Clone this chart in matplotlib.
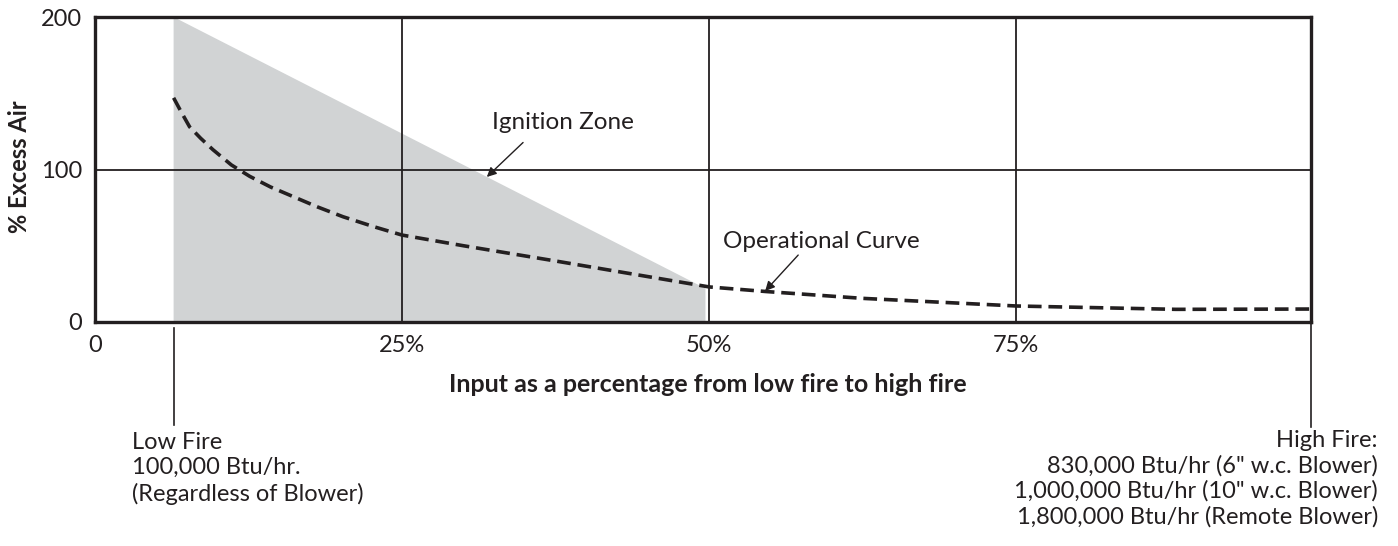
import matplotlib
matplotlib.use('Agg')
import matplotlib.pyplot as plt
import matplotlib.transforms as mtransforms

plt.rcParams['font.family'] = ['Lato', 'DejaVu Sans']

# operational curve (% input, % excess air)
curve_x = [6.4, 7.0, 7.7, 8.6, 9.6, 11.1, 12.6, 14.3, 16.2, 18.1, 20.2, 22.7, 25,
           30, 37.5, 43, 50, 54.6, 62.5, 75, 88, 99]
curve_y = [147, 138, 128, 120.5, 113, 103, 95.5, 88.5, 82, 75.5, 69, 62.5, 57,
           50, 40, 32.5, 23, 20, 15.5, 10.5, 8.3, 8.5]

# ignition zone outline
zone_x = [6.4, 6.4, 49.7, 49.7]
zone_y = [0, 200, 22, 0]

low_fire_x = 6.4
high_fire_x = 99

x_ticks = [0, 25, 50, 75]
x_ticklabels = ['0', '25%', '50%', '75%']
y_ticks = [0, 100, 200]

low_fire_text = 'Low Fire\n100,000 Btu/hr.\n(Regardless of Blower)'
high_fire_text = ('High Fire:\n830,000 Btu/hr (6" w.c. Blower)\n'
                  '1,000,000 Btu/hr (10" w.c. Blower)\n'
                  '1,800,000 Btu/hr (Remote Blower)')

INK = '#231f20'
GRAY = '#d1d3d4'

fig = plt.figure(figsize=(13.98, 5.46), dpi=100)
ax = fig.add_axes([95 / 1398, 1 - 322 / 546, (1311 - 95) / 1398, (322 - 17) / 546])

ax.fill(zone_x, zone_y, color=GRAY, lw=0, zorder=1)
for xv in [25, 50, 75]:
    ax.axvline(xv, color=INK, lw=1.3, zorder=2)
ax.axhline(100, color=INK, lw=1.3, zorder=2)
ax.plot(curve_x, curve_y, color=INK, lw=2.6, linestyle=(0, (3.8, 1.9)),
        zorder=3)

ax.set_xlim(0, 99)
ax.set_ylim(0, 200)
ax.set_xticks(x_ticks)
ax.set_xticklabels(x_ticklabels)
ax.set_yticks(y_ticks)
ax.tick_params(length=0, labelsize=17, colors=INK, pad=9)
for sp in ax.spines.values():
    sp.set_linewidth(2.4)
    sp.set_color(INK)

fig.text(20 / 1398, 1 - 167 / 546, '% Excess Air', fontsize=17, fontweight='bold',
         color=INK, rotation=90, ha='center', va='center')
fig.text(708 / 1398, 1 - 385 / 546, 'Input as a percentage from low fire to high fire',
         fontsize=18, fontweight='bold', color=INK, ha='center', va='center')

# leader lines below the axis
trans = mtransforms.blended_transform_factory(ax.transData, ax.transAxes)
ax.plot([low_fire_x, low_fire_x], [-0.02, -0.338], transform=trans,
        color=INK, lw=1.2, clip_on=False)
ax.plot([high_fire_x, high_fire_x], [0, -0.345], transform=trans,
        color=INK, lw=1.2, clip_on=False)

arrow = dict(arrowstyle='-|>', color=INK, lw=1.0, shrinkA=0, shrinkB=0,
             mutation_scale=14)
ax.text(32.3, 130.5, 'Ignition Zone', fontsize=17.5, color=INK, ha='left', va='center')
ax.annotate('', xy=(31.9, 95.1), xytext=(34.85, 117.7), arrowprops=arrow)
ax.text(51.1, 52.5, 'Operational Curve', fontsize=17.5, color=INK, ha='left', va='center')
ax.annotate('', xy=(54.56, 20.3), xytext=(57.25, 43.9), arrowprops=arrow)

fig.text(132 / 1398, 1 - 432 / 546, low_fire_text, fontsize=17, color=INK,
         ha='left', va='top', linespacing=1.25)
fig.text(1378 / 1398, 1 - 430 / 546, high_fire_text, fontsize=17, color=INK,
         ha='right', va='top', linespacing=1.22, multialignment='right')

fig.savefig('out.png', dpi=100)
